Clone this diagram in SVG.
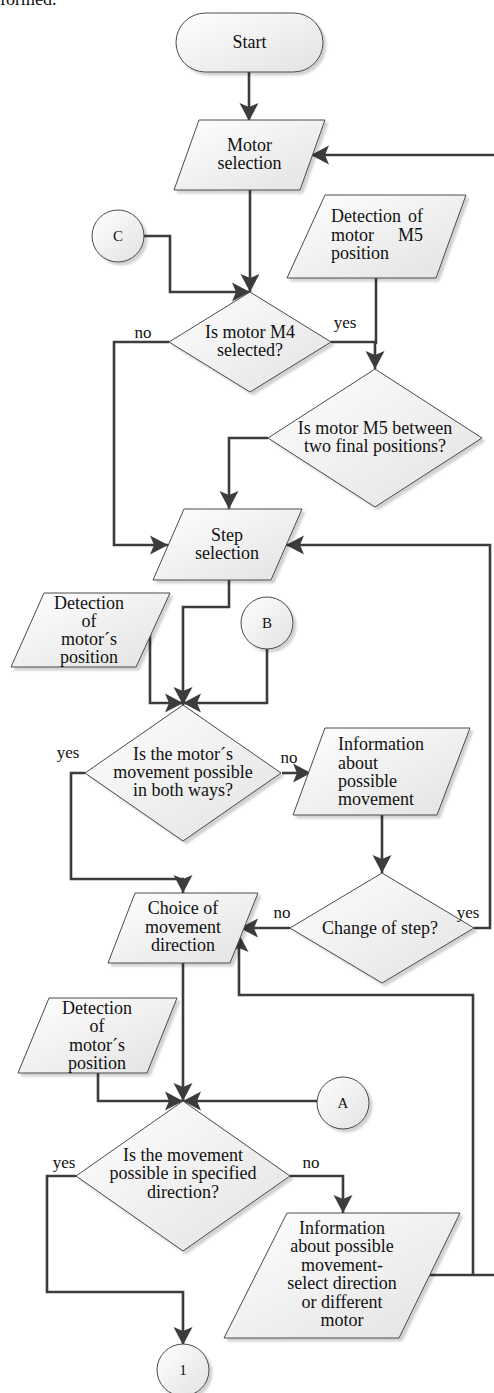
<svg xmlns="http://www.w3.org/2000/svg" width="494" height="1393" viewBox="0 0 494 1393">
<defs>
<linearGradient id="g" x1="0" y1="0" x2="1" y2="1">
<stop offset="0" stop-color="#ffffff"/>
<stop offset="1" stop-color="#e2e2e2"/>
</linearGradient>
<filter id="sh" x="-10%" y="-10%" width="130%" height="130%">
<feDropShadow dx="3" dy="3" stdDeviation="1" flood-color="#000" flood-opacity="0.18"/>
</filter>
<marker id="ar" markerUnits="userSpaceOnUse" viewBox="-18 -10 19 20" refX="0" refY="0" markerWidth="19" markerHeight="20" orient="auto">
<path d="M0,0 L-18,-9.5 L-14,0 L-18,9.5 z" fill="#3c3c3c"/>
</marker>
</defs>
<style>
.s{fill:url(#g);stroke:#4a4a4a;stroke-width:1;filter:url(#sh)}
.c{fill:none;stroke:#3c3c3c;stroke-width:2.6;stroke-linejoin:miter}
.a{marker-end:url(#ar)}
text{font-family:"Liberation Serif","Times New Roman",serif;font-size:18px;fill:#111}
.m{text-anchor:middle}
.e{text-anchor:end}
.l{font-size:17px;text-anchor:middle}
.k{font-size:15px;text-anchor:middle}
</style>
<text x="0" y="5" font-size="20">formed.</text>
<g id="connectors">
<path class="c a" d="M249,72 V121"/>
<path class="c a" d="M250,190 V292"/>
<path class="c a" d="M144,236 H170 V292 H250"/>
<path class="c a" d="M169,342 H114 V545 H168"/>
<path class="c a" d="M331,342 H375 V369"/>
<path class="c" d="M376,278 V344"/>
<path class="c a" d="M268,438 H229 V509"/>
<path class="c a" d="M229,580 V607 H183 V705"/>
<path class="c a" d="M150,630 V703 H183"/>
<path class="c a" d="M267,649 V703 H183"/>
<path class="c a" d="M85,773 H71 V879 H183 V893"/>
<path class="c a" d="M282,773 H311"/>
<path class="c a" d="M382,815 V873"/>
<path class="c a" d="M290,928 H240"/>
<path class="c a" d="M474,928 H490 V545 H286"/>
<path class="c" d="M428,1275 H494"/>
<path class="c a" d="M473,1275 V995 H239 V934"/>
<path class="c a" d="M494,155 H311"/>
<path class="c a" d="M183,963 V1101"/>
<path class="c a" d="M98,1073 V1101 H183"/>
<path class="c a" d="M317,1101 H183"/>
<path class="c a" d="M76,1176 H47 V1292 H183 V1345"/>
<path class="c a" d="M290,1176 H343 V1213"/>
</g>
<g id="start"><rect class="s" x="176" y="13" width="147" height="59" rx="29.5"/><text class="m" x="249.5" y="48">Start</text></g>
<g id="motor-selection"><polygon class="s" points="199,120 325,120 300,190 174,190"/><text class="m" x="249.5" y="151">Motor</text><text class="m" x="249.5" y="169">selection</text></g>
<g id="conn-c"><circle class="s" cx="118" cy="236" r="26"/><text class="k" x="118" y="241">C</text></g>
<g id="detect-m5"><polygon class="s" points="325,195 466,195 436,278 287,278"/><text x="331" y="222">Detection</text><text class="e" x="423" y="222">of</text><text x="331" y="241">motor</text><text class="e" x="423" y="241">M5</text><text x="331" y="259">position</text></g>
<g id="dec-m4"><polygon class="s" points="250,292 331,342 250,392 169,342"/><text class="m" x="250" y="338">Is motor M4</text><text class="m" x="250" y="356">selected?</text></g>
<g id="dec-m5"><polygon class="s" points="375,369 482,438 375,507 268,438"/><text class="m" x="375" y="434">Is motor M5 between</text><text class="m" x="375" y="452">two final positions?</text></g>
<g id="step-selection"><polygon class="s" points="184,509 302,509 271,580 153,580"/><text class="m" x="227" y="541">Step</text><text class="m" x="227" y="559">selection</text></g>
<g id="detect-pos-1"><polygon class="s" points="44,593 170,593 136,667 11,667"/><text class="m" x="89" y="609">Detection</text><text class="m" x="89" y="627">of</text><text class="m" x="89" y="645">motor´s</text><text class="m" x="89" y="663">position</text></g>
<g id="conn-b"><circle class="s" cx="267" cy="623" r="26"/><text class="k" x="267" y="628">B</text></g>
<g id="dec-both"><polygon class="s" points="183,705 281,773 183,841 85,773"/><text class="m" x="183" y="760">Is the motor´s</text><text class="m" x="183" y="778">movement possible</text><text class="m" x="183" y="796">in both ways?</text></g>
<g id="info-1"><polygon class="s" points="325,728 470,728 437,815 293,815"/><text x="338" y="750">Information</text><text x="338" y="769">about</text><text x="338" y="787">possible</text><text x="338" y="805">movement</text></g>
<g id="dec-change"><polygon class="s" points="382,873 474,928 382,983 290,928"/><text class="m" x="380" y="934">Change of step?</text></g>
<g id="choice-dir"><polygon class="s" points="135,893 258,893 230,963 108,963"/><text class="m" x="183" y="914">Choice of</text><text class="m" x="183" y="933">movement</text><text class="m" x="183" y="951">direction</text></g>
<g id="detect-pos-2"><polygon class="s" points="49,998 177,998 147,1073 18,1073"/><text class="m" x="97" y="1014">Detection</text><text class="m" x="97" y="1032">of</text><text class="m" x="97" y="1051">motor´s</text><text class="m" x="97" y="1069">position</text></g>
<g id="conn-a"><circle class="s" cx="343" cy="1103" r="26"/><text class="k" x="343" y="1108">A</text></g>
<g id="dec-dir"><polygon class="s" points="183,1101 290,1176 183,1251 76,1176"/><text class="m" x="183" y="1161">Is the movement</text><text class="m" x="183" y="1179">possible in specified</text><text class="m" x="183" y="1198">direction?</text></g>
<g id="info-2"><polygon class="s" points="287,1213 460,1213 399,1338 224,1338"/><text class="m" x="342" y="1234">Information</text><text class="m" x="342" y="1252">about possible</text><text class="m" x="342" y="1271">movement-</text><text class="m" x="342" y="1289">select direction</text><text class="m" x="342" y="1308">or different</text><text class="m" x="342" y="1326">motor</text></g>
<g id="conn-1"><circle class="s" cx="183" cy="1370" r="26"/><text class="k" x="183" y="1375">1</text></g>
<g id="labels">
<text class="l" x="143" y="338">no</text>
<text class="l" x="345" y="328">yes</text>
<text class="l" x="68" y="758">yes</text>
<text class="l" x="289" y="763">no</text>
<text class="l" x="282" y="918">no</text>
<text class="l" x="468" y="918">yes</text>
<text class="l" x="64" y="1168">yes</text>
<text class="l" x="311" y="1168">no</text>
</g>
</svg>
